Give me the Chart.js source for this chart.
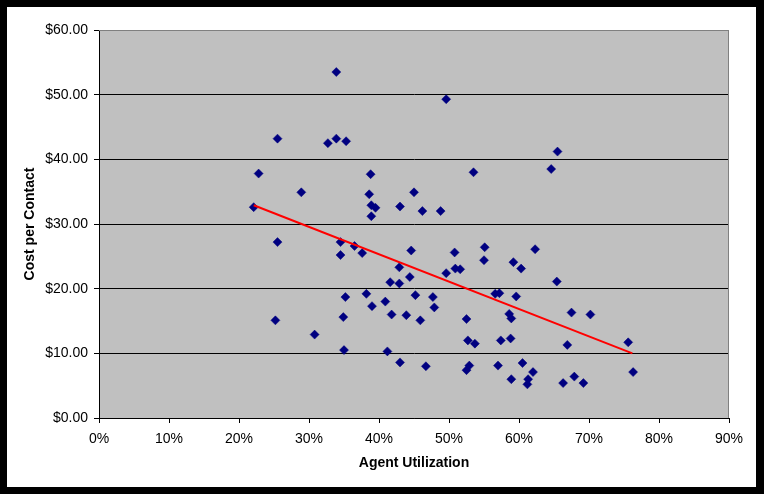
<!DOCTYPE html>
<html>
<head>
<meta charset="utf-8">
<script src="https://cdn.jsdelivr.net/npm/chart.js@4.4.1/dist/chart.umd.min.js"></script>
<style>
  html, body { margin: 0; padding: 0; background: #000; }
  body { width: 764px; height: 494px; position: relative; overflow: hidden; }
  #wrap { position: absolute; left: 7px; top: 7px; width: 749px; height: 480px; background: #fff; }
  canvas { display: block; }
</style>
</head>
<body>
<div id="wrap"><canvas id="c" width="749" height="480"></canvas></div>
<script>
// Agent Utilization (%) and Cost per Contact ($)
const utilization = [
  22.1, 22.8, 25.5, 25.5, 25.2, 28.9, 30.8, 32.7, 33.9, 33.9,
  35.3, 34.5, 34.5, 36.5, 37.6, 35.2, 34.9, 35.0, 38.2, 38.6,
  38.8, 38.9, 39.5, 38.9, 39.0, 40.9, 41.2, 41.8, 42.9, 42.9,
  41.6, 43.0, 43.0, 43.9, 44.4, 44.6, 45.0, 45.2, 45.9, 46.2,
  46.7, 47.7, 47.9, 48.8, 49.6, 49.6, 50.8, 50.9, 51.6, 52.5,
  52.7, 53.7, 53.5, 52.9, 52.5, 55.0, 55.1, 56.6, 57.2, 57.4,
  57.0, 58.6, 58.9, 58.8, 58.9, 59.2, 59.6, 60.3, 60.5, 61.3,
  61.2, 62.0, 62.3, 64.6, 65.5, 65.4, 66.3, 66.9, 67.5, 67.9,
  69.2, 70.2, 75.6, 76.3
];
const costPerContact = [
  32.6, 37.8, 43.2, 27.2, 15.1, 34.9, 12.9, 42.5, 53.5, 43.2,
  42.8, 27.2, 25.2, 26.6, 25.5, 18.7, 15.6, 10.5, 19.2, 34.6,
  37.7, 32.9, 32.5, 31.2, 17.3, 18.0, 10.3, 16.0, 23.3, 20.8,
  21.0, 32.7, 8.6, 15.9, 21.8, 25.9, 34.9, 19.0, 15.1, 32.0,
  8.0, 18.7, 17.1, 32.0, 49.3, 22.4, 25.6, 23.1, 23.0, 15.3,
  12.0, 11.5, 38.0, 8.1, 7.4, 24.4, 26.4, 19.2, 19.3, 12.0,
  8.1, 16.1, 15.4, 12.3, 6.0, 24.1, 18.8, 23.1, 8.5, 6.0,
  5.2, 7.1, 26.1, 38.5, 41.2, 21.1, 5.4, 11.3, 16.3, 6.4,
  5.4, 16.0, 11.7, 7.1
];
// Linear trendline end points
const trendX = [22.1, 76.2];
const trendY = [32.9, 10.0];

const xTicks = [0, 10, 20, 30, 40, 50, 60, 70, 80, 90];
const yTicks = [0, 10, 20, 30, 40, 50, 60];

const points = utilization.map((x, i) => ({ x: x, y: costPerContact[i] }));
const trend = trendX.map((x, i) => ({ x: x, y: trendY[i] }));

const plotBg = {
  id: 'plotBg',
  beforeDraw(chart) {
    const { ctx, chartArea: a } = chart;
    ctx.save();
    ctx.fillStyle = '#C0C0C0';
    ctx.fillRect(a.left, a.top, a.right - a.left, a.bottom - a.top);
    ctx.restore();
  },
  beforeDatasetsDraw(chart) {
    const { ctx, chartArea: a } = chart;
    ctx.save();
    ctx.strokeStyle = '#808080';
    ctx.lineWidth = 1;
    ctx.beginPath();
    ctx.moveTo(a.left, a.top + 0.5);
    ctx.lineTo(a.right - 0.5, a.top + 0.5);
    ctx.lineTo(a.right - 0.5, a.bottom);
    ctx.stroke();
    ctx.restore();
  }
};

const font = { family: "'Liberation Sans', Arial, sans-serif", size: 14 };
const titleFont = { family: "'Liberation Sans', Arial, sans-serif", size: 14, weight: 'bold' };

new Chart(document.getElementById('c'), {
  type: 'scatter',
  data: {
    datasets: [
      {
        label: 'Cost per Contact',
        data: points,
        pointStyle: 'rectRot',
        pointRadius: 4.5,
        pointHoverRadius: 4.5,
        backgroundColor: '#000080',
        borderColor: '#000080',
        borderWidth: 0.5,
        order: 2
      },
      {
        label: 'Trend',
        type: 'line',
        data: trend,
        borderColor: '#FF0000',
        borderWidth: 2,
        pointRadius: 0,
        fill: false,
        order: 1
      }
    ]
  },
  options: {
    responsive: false,
    animation: false,
    devicePixelRatio: 1,
    layout: { padding: { top: 23, right: 27, left: 0, bottom: 0 } },
    plugins: { legend: { display: false }, tooltip: { enabled: false } },
    scales: {
      x: {
        type: 'linear',
        min: 0, max: 90,
        afterFit(s) { s.height = 69; },
        afterBuildTicks(s) { s.ticks = xTicks.map(v => ({ value: v })); },
        ticks: { color: '#000', font: font, padding: 8, maxRotation: 0, callback: v => v + '%' },
        grid: { display: true, drawOnChartArea: false, drawTicks: true, tickLength: 5, color: '#000', tickColor: '#000' },
        border: { display: true, color: '#000', width: 1 },
        title: { display: true, text: 'Agent Utilization', color: '#000', font: titleFont, padding: { top: 0, bottom: 15 } }
      },
      y: {
        type: 'linear',
        min: 0, max: 60,
        afterFit(s) { s.width = 92; },
        afterBuildTicks(s) { s.ticks = yTicks.map(v => ({ value: v })); },
        ticks: { color: '#000', font: font, padding: 6, callback: v => '$' + Number(v).toFixed(2) },
        grid: {
          display: true, drawOnChartArea: true, drawTicks: true, tickLength: 5,
          color: ctx => (ctx.tick && ctx.tick.value === 60) ? '#808080' : '#000',
          tickColor: '#000'
        },
        border: { display: true, color: '#000', width: 1 },
        title: { display: true, text: 'Cost per Contact', color: '#000', font: titleFont, padding: { top: 15, bottom: 0 } }
      }
    }
  },
  plugins: [plotBg]
});
</script>
</body>
</html>
